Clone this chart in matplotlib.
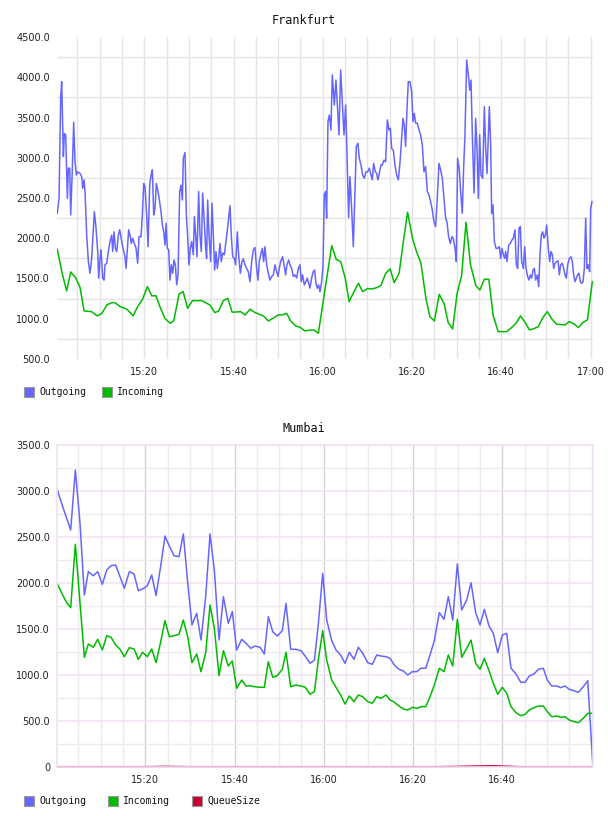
import matplotlib
matplotlib.use("Agg")
import matplotlib.pyplot as plt
from matplotlib.patches import Rectangle
from matplotlib.ticker import MultipleLocator

# --- data (minutes after 15:00) ---
fra_out_min = [
    0.5, 0.9, 1.27, 1.49, 1.87, 2.09, 2.39, 2.76, 2.99, 3.29,
    3.51, 3.88, 4.18, 4.48, 4.78, 5.08, 5.60, 5.97, 6.20, 6.50,
    6.72, 7.09, 7.47, 7.84, 8.21, 8.81, 9.19, 9.56, 9.78, 10.08,
    10.31, 10.68, 10.98, 11.20, 11.58, 11.95, 12.32, 12.70, 12.92, 13.22,
    13.52, 13.82, 14.19, 14.49, 14.94, 15.31, 15.68, 15.91, 16.21, 16.50,
    16.80, 17.10, 17.40, 17.77, 18.15, 18.52, 18.82, 19.27, 19.57, 19.87,
    20.16, 20.54, 20.84, 21.21, 21.51, 21.81, 22.11, 22.40, 22.70, 23.08,
    23.38, 23.75, 24.05, 24.35, 24.65, 24.87, 25.17, 25.47, 25.77, 26.06,
    26.36, 26.66, 26.96, 27.26, 27.56, 27.93, 28.23, 28.53, 28.75, 29.13,
    29.43, 29.72, 30.02, 30.32, 30.62, 30.99, 31.22, 31.51, 31.81, 32.18,
    32.48, 32.78, 33.08, 33.45, 33.75, 33.97, 34.20, 34.50, 34.87, 35.17,
    35.47, 35.77, 36.07, 36.36, 36.66, 36.96, 37.26, 37.56, 37.93, 38.31,
    38.75, 39.20, 39.50, 39.80, 40.17, 40.47, 40.85, 41.14, 41.52, 41.89,
    42.19, 42.56, 42.94, 43.31, 43.68, 44.06, 44.43, 44.80, 45.18, 45.48,
    45.77, 46.15, 46.45, 46.74, 47.04, 47.42, 47.79, 48.16, 48.54, 48.91,
    49.28, 49.66, 49.96, 50.25, 50.55, 51.00, 51.38, 51.67, 51.97, 52.35,
    52.64, 53.02, 53.39, 53.77, 54.14, 54.51, 54.89, 55.18, 55.48, 55.86,
    56.23, 56.53, 56.83, 57.13, 57.50, 57.87, 58.17, 58.47, 58.77, 59.07,
    59.37, 59.74, 60.04, 60.34, 60.64, 60.86, 61.16, 61.46, 61.83, 62.13,
    62.58, 62.95, 63.33, 63.63, 64.00, 64.45, 64.75, 65.12, 65.42, 65.79,
    66.09, 66.46, 66.84, 67.21, 67.51, 67.88, 68.18, 68.56, 68.93, 69.30,
    69.68, 70.05, 70.42, 70.72, 71.09, 71.39, 71.77, 72.07, 72.36, 72.74,
    73.04, 73.34, 73.71, 74.08, 74.46, 74.83, 75.13, 75.43, 75.80, 76.17,
    76.55, 76.92, 77.29, 77.67, 77.97, 78.26, 78.56, 78.86, 79.16, 79.53,
    79.91, 80.21, 80.50, 80.80, 81.18, 81.55, 81.92, 82.30, 82.67, 83.04,
    83.42, 83.79, 84.16, 84.54, 84.91, 85.28, 85.66, 86.03, 86.40, 86.78,
    87.15, 87.53, 87.82, 88.20, 88.57, 88.94, 89.24, 89.62, 89.92, 90.21,
    90.59, 90.89, 91.26, 91.56, 91.86, 92.24, 92.62, 92.92, 93.21, 93.51,
    93.89, 94.26, 94.56, 94.86, 95.16, 95.45, 95.83, 96.20, 96.50, 96.80,
    97.10, 97.32, 97.62, 97.84, 98.14, 98.44, 98.82, 99.19, 99.56, 99.86,
    100.16, 100.46, 100.76, 100.98, 101.28, 101.65, 102.03, 102.40, 102.70, 103.07,
    103.37, 103.67, 103.97, 104.27, 104.57, 104.94, 105.24, 105.54, 105.91, 106.21,
    106.51, 106.81, 107.11, 107.40, 107.70, 108.08, 108.38, 108.67, 108.97, 109.27,
    109.57, 109.87, 110.17, 110.54, 110.84, 111.14, 111.44, 111.74, 112.03, 112.41,
    112.71, 113.01, 113.30, 113.68, 113.98, 114.28, 114.57, 114.87, 115.25, 115.62,
    115.92, 116.22, 116.52, 116.81, 117.11, 117.41, 117.71, 118.01, 118.31, 118.61,
    118.91, 119.20, 119.50, 119.80, 120.03, 120.32,
]
fra_outgoing = [
    2310, 2500, 3760, 3945, 3015, 3300, 3285, 2495, 2870, 2870,
    2290, 2870, 3440, 2950, 2785, 2825, 2805, 2765, 2620, 2725,
    2580, 2040, 1710, 1565, 1750, 2330, 2125, 1835, 1505, 1750,
    1855, 1505, 1480, 1670, 1690, 1835, 1960, 2040, 1835, 2080,
    1875, 1835, 2040, 2105, 1960, 1855, 1770, 1625, 1875, 2105,
    2040, 1935, 2000, 1935, 1875, 1690, 2020, 2020, 2290, 2680,
    2640, 2290, 1895, 2660, 2785, 2850, 2290, 2370, 2680, 2580,
    2475, 2330, 2165, 2080, 1915, 2185, 1875, 1855, 1480, 1670,
    1565, 1730, 1670, 1420, 1545, 2580, 2660, 2475, 2995, 3065,
    2290, 2020, 1670, 1875, 1960, 1795, 2270, 2040, 1770, 2580,
    2040, 1835, 2560, 2205, 1875, 1750, 2475, 2040, 1710, 2435,
    2040, 1605, 1835, 1625, 1750, 1935, 1710, 1815, 1795, 1960,
    2165, 2405, 2040, 1770, 1750, 1670, 2080, 1795, 1565, 1710,
    1745, 1670, 1625, 1585, 1460, 1710, 1855, 1885, 1625, 1480,
    1710, 1815, 1875, 1710, 1895, 1670, 1565, 1480, 1525, 1545,
    1670, 1585, 1525, 1625, 1710, 1770, 1650, 1545, 1670, 1730,
    1670, 1625, 1525, 1545, 1505, 1625, 1670, 1460, 1545, 1420,
    1460, 1505, 1440, 1380, 1505, 1585, 1605, 1440, 1380, 1420,
    1335, 1460, 1650, 2540, 2580, 2250, 3450, 3530, 3345, 4030,
    3655, 3965, 3575, 3285, 4090, 3615, 3285, 3655, 3055, 2255,
    2765, 2370, 1895, 2580, 3140, 3180, 2995, 2910, 2785, 2745,
    2825, 2825, 2870, 2805, 2725, 2930, 2825, 2805, 2725, 2825,
    2910, 2910, 2970, 2950, 3470, 3345, 3365, 3115, 3095, 2910,
    2785, 2725, 2930, 3240, 3490, 3405, 3140, 3595, 3945, 3945,
    3820, 3450, 3550, 3430, 3430, 3345, 3285, 3160, 2825, 2890,
    2580, 2540, 2455, 2350, 2205, 2145, 2495, 2930, 2850, 2745,
    2495, 2250, 2205, 2020, 1935, 2020, 2000, 1875, 1710, 2995,
    2850, 2580, 2310, 2870, 3285, 4215, 4030, 3840, 3965, 3285,
    2560, 3490, 3115, 2495, 3285, 2785, 2745, 3635, 3115, 2805,
    3285, 3635, 3160, 2310, 2415, 1960, 1875, 1875, 1895, 1750,
    1875, 1795, 1750, 1835, 1710, 1915, 1935, 1980, 2000, 2105,
    1670, 1625, 2125, 2145, 1710, 1625, 1895, 1625, 1525, 1480,
    1545, 1505, 1605, 1625, 1480, 1545, 1400, 1795, 2040, 2080,
    2000, 2040, 2165, 1875, 1710, 1835, 1795, 1625, 1690, 1710,
    1720, 1545, 1670, 1690, 1625, 1545, 1505, 1670, 1750, 1770,
    1710, 1545, 1460, 1505, 1545, 1565, 1460, 1440, 1460, 1625,
    2250, 1625, 1670, 1585, 2370, 2455,
]

fra_in_min = [
    0.5, 1.6, 2.6, 3.5, 4.6, 5.6, 6.5, 8.2, 9.5, 10.5,
    11.6, 12.7, 13.4, 14.6, 16.1, 17.5, 18.5, 19.6, 20.7, 21.7,
    22.6, 23.5, 24.6, 25.8, 26.6, 27.8, 28.7, 29.7, 30.8, 32.9,
    34.7, 35.8, 36.7, 37.7, 38.7, 39.7, 41.6, 42.6, 43.7, 44.7,
    45.7, 46.7, 47.8, 48.9, 50.0, 50.9, 51.9, 52.8, 53.9, 54.9,
    56.0, 57.0, 58.0, 59.0, 62.0, 63.0, 64.0, 65.0, 65.9, 67.0,
    68.0, 68.9, 70.0, 71.1, 72.1, 73.0, 74.1, 75.1, 76.0, 77.1,
    78.0, 79.0, 80.1, 81.0, 82.0, 83.1, 84.0, 85.0, 86.1, 87.2,
    88.1, 89.1, 90.1, 91.1, 92.1, 93.1, 94.3, 95.2, 96.2, 97.2,
    98.2, 99.3, 101.2, 102.3, 103.3, 104.3, 105.3, 106.3, 107.3, 108.3,
    109.3, 110.3, 111.3, 112.4, 114.3, 115.2, 116.3, 117.3, 118.2, 119.3,
    120.4,
]
fra_incoming = [
    1863, 1565, 1345, 1581, 1510, 1391, 1097, 1088, 1035, 1068,
    1171, 1200, 1200, 1150, 1118, 1035, 1150, 1242, 1399, 1283,
    1287, 1150, 1006, 944, 973, 1308, 1337, 1130, 1225, 1225,
    1171, 1076, 1097, 1225, 1254, 1081, 1088, 1047, 1118, 1081,
    1056, 1035, 973, 1006, 1047, 1047, 1068, 973, 911, 895,
    849, 858, 861, 820, 1908, 1739, 1710, 1511, 1213, 1337,
    1441, 1337, 1374, 1370, 1387, 1411, 1565, 1619, 1449, 1565,
    1938, 2323, 2000, 1834, 1689, 1255, 1026, 973, 1304, 1184,
    952, 873, 1316, 1536, 2199, 1668, 1411, 1358, 1491, 1491,
    1035, 840, 840, 890, 944, 1035, 957, 861, 877, 902,
    1014, 1088, 998, 932, 923, 964, 936, 890, 952, 985,
    1461,
]

mum_min = [
    0.28, 1.49, 2.39, 3.28, 4.32, 5.37, 6.34, 7.23, 8.35, 9.33,
    10.37, 11.35, 12.31, 13.36, 14.33, 15.30, 16.42, 17.47, 18.44, 19.40,
    20.45, 21.44, 22.40, 23.45, 24.41, 25.38, 26.43, 27.55, 28.52, 29.50,
    30.46, 31.51, 32.48, 33.53, 34.50, 35.47, 36.52, 37.50, 38.60, 39.50,
    40.48, 41.60, 42.57, 43.62, 44.58, 45.70, 46.67, 47.57, 48.55, 49.58,
    50.70, 51.53, 52.58, 53.77, 54.89, 55.86, 56.90, 57.90, 58.77, 59.75,
    60.65, 61.77, 62.73, 63.78, 64.75, 65.71, 66.77, 67.73, 68.72, 69.84,
    70.87, 71.86, 72.82, 73.94, 74.84, 75.80, 76.85, 77.81, 78.80, 79.83,
    80.82, 81.78, 82.84, 83.80, 84.76, 85.88, 86.94, 87.90, 88.89, 89.92,
    90.90, 92.02, 92.99, 94.03, 95.00, 95.97, 97.02, 97.98, 98.97, 100.00,
    100.99, 101.95, 103.07, 104.13, 105.09, 106.05, 107.10, 108.07, 109.19, 110.08,
    111.07, 112.19, 113.08, 114.05, 115.01, 116.07, 117.03, 118.15, 119.14, 120.26,
]
mum_outgoing = [
    3011, 2829, 2700, 2575, 3228, 2648, 1868, 2122, 2078, 2122,
    1984, 2140, 2187, 2194, 2067, 1941, 2122, 2097, 1915, 1933,
    1969, 2086, 1861, 2184, 2510, 2401, 2296, 2285, 2532, 2000,
    1542, 1669, 1378, 1850, 2532, 2140, 1378, 1850, 1560, 1687,
    1270, 1386, 1343, 1288, 1313, 1299, 1226, 1632, 1469, 1422,
    1480, 1778, 1277, 1277, 1262, 1200, 1125, 1161, 1550, 2104,
    1596, 1371, 1270, 1215, 1125, 1245, 1168, 1299, 1234, 1132,
    1114, 1215, 1204, 1197, 1179, 1106, 1060, 1041, 998, 1034,
    1034, 1071, 1071, 1215, 1371, 1676, 1604, 1850, 1596, 2205,
    1705, 1814, 2002, 1676, 1542, 1712, 1531, 1451, 1240, 1433,
    1451, 1071, 1009, 918, 918, 987, 1009, 1060, 1071, 943,
    878, 878, 860, 878, 842, 827, 809, 870, 936, 37,
]
mum_incoming = [
    1988, 1868, 1784, 1730, 2420, 1780, 1190, 1335, 1299, 1386,
    1270, 1425, 1408, 1324, 1277, 1197, 1295, 1281, 1168, 1245,
    1197, 1281, 1132, 1360, 1589, 1414, 1425, 1440, 1596, 1414,
    1132, 1226, 1034, 1240, 1759, 1506, 990, 1262, 1096, 1150,
    853, 943, 878, 878, 870, 864, 864, 1142, 973, 990,
    1060, 1245, 870, 889, 878, 864, 788, 816, 1161, 1480,
    1161, 943, 864, 780, 682, 769, 707, 780, 762, 707,
    690, 762, 744, 780, 726, 701, 660, 628, 617, 646,
    635, 653, 653, 762, 889, 1071, 1034, 1215, 1096, 1604,
    1190, 1288, 1378, 1125, 1060, 1179, 1045, 907, 788, 864,
    799, 653, 588, 555, 570, 617, 642, 660, 660, 598,
    544, 552, 537, 544, 508, 490, 479, 527, 581, 581,
]
mum_queue_min = [0.28, 20.0, 24.4, 30.5, 60.0, 85.0, 90.0, 95.0, 98.0, 100.0, 104.0, 120.26]
mum_queue = [0, 0, 3, 0, 0, 0, 3, 8, 10, 6, 0, 0]

time_ticks = [20, 40, 60, 80, 100, 120]
time_labels = ["15:20", "15:40", "16:00", "16:20", "16:40", "17:00"]

C_OUT = "#6666ff"
C_IN = "#00bb00"
C_Q = "#cc0033"

W, H = 608, 816
fig = plt.figure(figsize=(W / 100, H / 100), dpi=100)


def px_axes(left, top, right, bottom):
    return fig.add_axes([left / W, 1 - bottom / H, (right - left) / W, (bottom - top) / H])


def style_ticks(ax):
    ax.tick_params(axis="both", which="both", length=0, labelsize=7, labelcolor="#222222")
    ax.tick_params(axis="x", pad=6)
    ax.tick_params(axis="y", pad=5)


def legend(items, y, xs):
    for (label, color), x in zip(items, xs):
        fig.add_artist(Rectangle((x / W, 1 - (y + 5) / H), 10 / W, 10 / H,
                                 transform=fig.transFigure, facecolor=color,
                                 edgecolor="#999999", lw=0.8))
        fig.text((x + 15) / W, 1 - y / H, label, ha="left", va="center",
                 family="DejaVu Sans Mono", fontsize=7, color="#111111")


# ---------- Frankfurt ----------
ax1 = px_axes(57, 37, 593, 359)
ax1.plot(fra_out_min, fra_outgoing, color=C_OUT, lw=1.1)
ax1.plot(fra_in_min, fra_incoming, color=C_IN, lw=1.1)
ax1.set_xlim(0.44, 120.55)
ax1.set_ylim(500, 4500)
ax1.set_yticks(range(500, 4501, 500))
ax1.set_yticklabels(["%.1f" % v for v in range(500, 4501, 500)])
ax1.set_yticks(range(750, 4500, 500), minor=True)
ax1.set_xticks(time_ticks)
ax1.set_xticklabels(time_labels)
ax1.xaxis.set_minor_locator(MultipleLocator(5))
ax1.grid(False)
ax1.grid(True, which="minor", color="#e4e4e4", lw=1)
ax1.grid(True, axis="x", which="major", color="#e4e4e4", lw=1)
for s in ax1.spines.values():
    s.set_visible(False)
ax1.set_axisbelow(True)
style_ticks(ax1)
fig.text(0.5, 1 - 20 / H, "Frankfurt", ha="center", va="center",
         family="DejaVu Sans Mono", fontsize=8.5, color="#111111")
legend([("Outgoing", C_OUT), ("Incoming", C_IN)], 392, [24, 102])

# ---------- Mumbai ----------
ax2 = px_axes(57, 445, 593.3, 766.7)
ax2.plot(mum_min, mum_outgoing, color=C_OUT, lw=1.1)
ax2.plot(mum_min, mum_incoming, color=C_IN, lw=1.1)
ax2.plot(mum_queue_min, mum_queue, color=C_Q, lw=1.1, clip_on=False)
ax2.set_xlim(0.21, 120.39)
ax2.set_ylim(0, 3500)
ax2.set_yticks(range(0, 3501, 500))
ax2.set_yticklabels(["0"] + ["%.1f" % v for v in range(500, 3501, 500)])
ax2.set_yticks(range(250, 3500, 500), minor=True)
ax2.set_xticks(time_ticks[:-1])
ax2.set_xticklabels(time_labels[:-1])
ax2.xaxis.set_minor_locator(MultipleLocator(5))
ax2.grid(True, which="minor", color="#eeeaee", lw=1)
ax2.grid(True, axis="y", which="major", color="#f2e4f2", lw=1.2)
ax2.grid(True, axis="x", which="major", color="#dccce0", lw=1)
for s in ax2.spines.values():
    s.set_color("#f0e0f2")
    s.set_linewidth(1.2)
ax2.set_axisbelow(True)
style_ticks(ax2)
fig.text(0.5, 1 - 428.5 / H, "Mumbai", ha="center", va="center",
         family="DejaVu Sans Mono", fontsize=8.5, color="#111111")
legend([("Outgoing", C_OUT), ("Incoming", C_IN), ("QueueSize", C_Q)], 801, [24, 108, 192])

fig.savefig("out.png", dpi=100)
